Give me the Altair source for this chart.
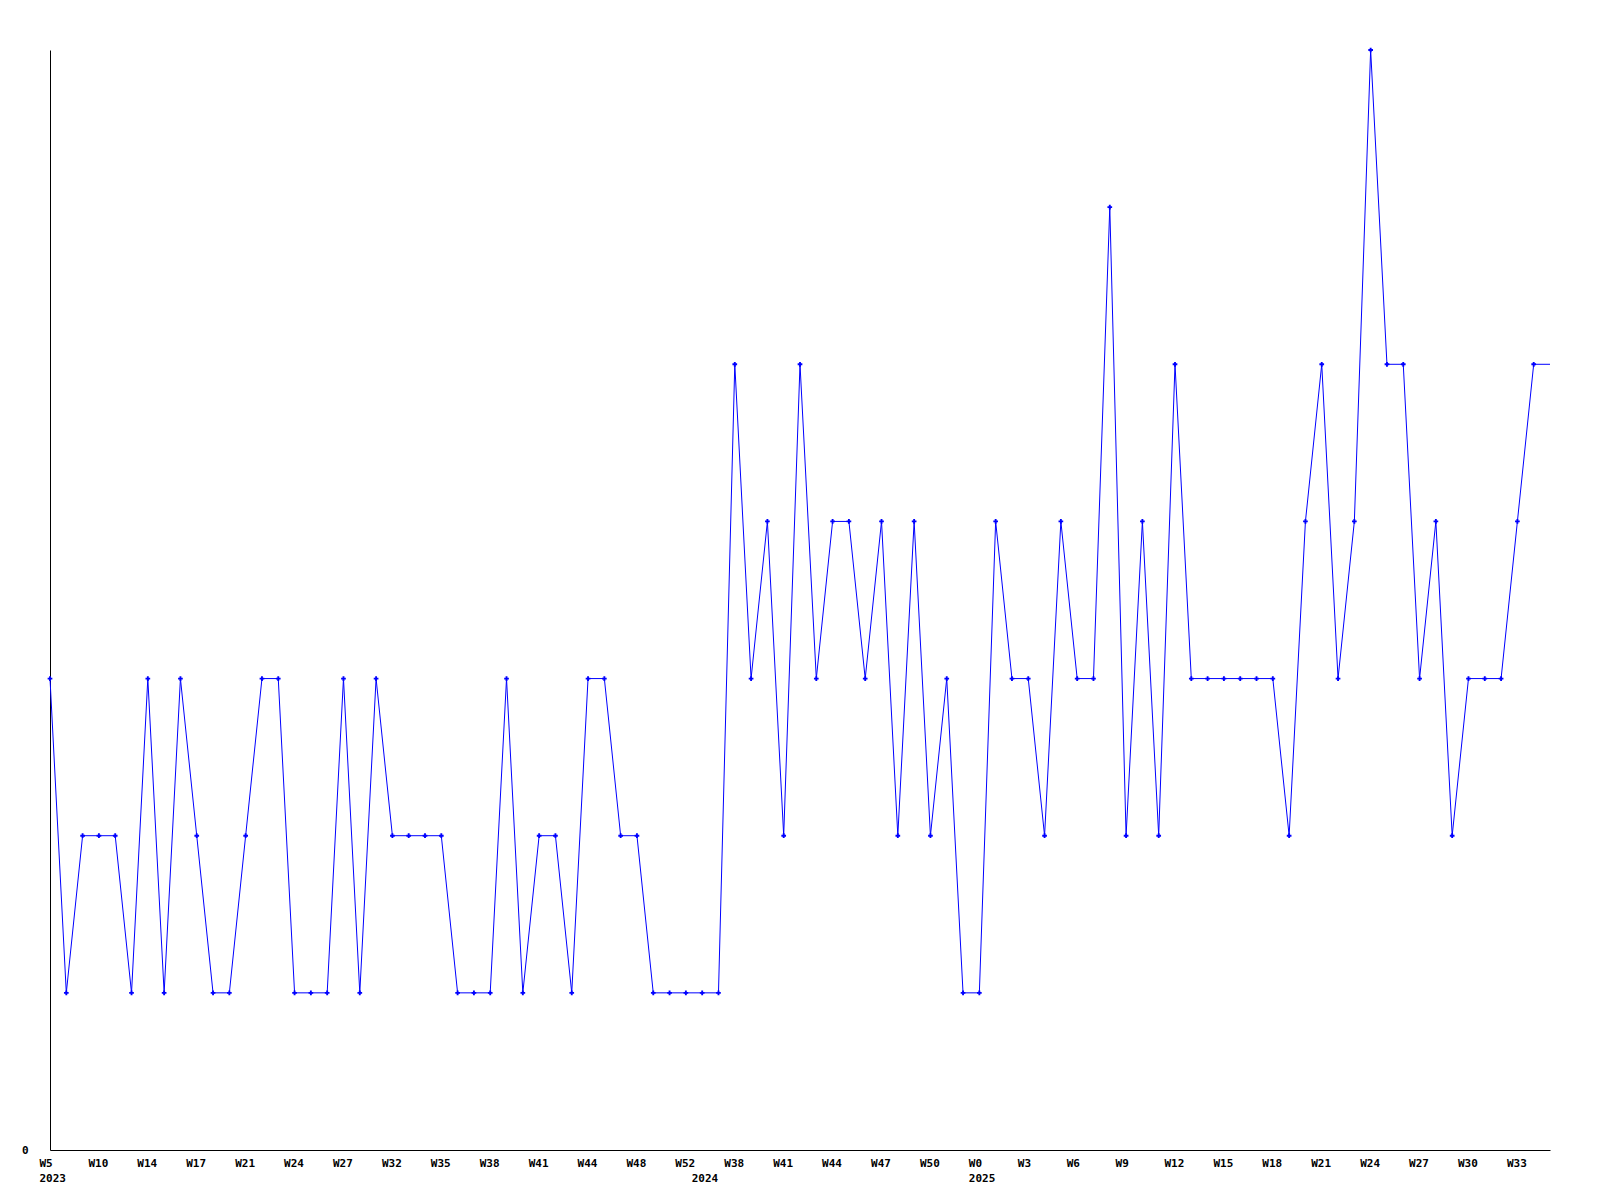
import json
import altair as alt
import pandas as pd

# weekly counts (one value per week)
values = [3, 1, 2, 2, 2, 1, 3, 1, 3, 2,
          1, 1, 2, 3, 3, 1, 1, 1, 3, 1,
          3, 2, 2, 2, 2, 1, 1, 1, 3, 1,
          2, 2, 1, 3, 3, 2, 2, 1, 1, 1,
          1, 1, 5, 3, 4, 2, 5, 3, 4, 4,
          3, 4, 2, 4, 2, 3, 1, 1, 4, 3,
          3, 2, 4, 3, 3, 6, 2, 4, 2, 5,
          3, 3, 3, 3, 3, 3, 2, 4, 5, 3,
          4, 7, 5, 5, 3, 4, 2, 3, 3, 3,
          4, 5, 5]
n_markers = 92  # last value has no marker (current, running week)

# tick labels (every third week) and year labels
week_labels = ["W5", "W10", "W14", "W17", "W21", "W24", "W27", "W32", "W35", "W38",
               "W41", "W44", "W48", "W52", "W38", "W41", "W44", "W47", "W50", "W0",
               "W3", "W6", "W9", "W12", "W15", "W18", "W21", "W24", "W27", "W30", "W33"]
week_label_step = 3
year_labels = ["2023", "2024", "2025"]
year_positions = [0, 40, 57]

df = pd.DataFrame({"i": list(range(len(values))), "v": values})

# build label lookup array
labels = [""] * len(values)
for k, w in enumerate(week_labels):
    labels[k * week_label_step] = [w]
for y, p in zip(year_labels, year_positions):
    cur = labels[p]
    first = cur[0] if isinstance(cur, list) else ""
    labels[p] = [first, y]
tick_values = sorted(set([k * week_label_step for k in range(len(week_labels))] + year_positions))
label_expr = json.dumps(labels) + "[datum.value]"

font = "DejaVu Sans Mono"
xmax = len(values) - 1

x_enc = alt.X("i:Q",
              scale=alt.Scale(domain=[0, xmax], nice=False, zero=False),
              axis=alt.Axis(values=tick_values, labelExpr=label_expr, title=None,
                            grid=False, ticks=False, tickSize=0, labelAlign="left",
                            labelOffset=-11, labelPadding=7, labelLineHeight=15,
                            labelOverlap=False, labelFlush=False, labelBound=False,
                            labelFont=font, labelFontWeight="bold", labelFontSize=11,
                            labelColor="#000000", domainColor="#000000", domainWidth=1))
y_enc = alt.Y("v:Q",
              scale=alt.Scale(domain=[0, 7], nice=False, zero=True),
              axis=alt.Axis(values=[0], format="d", title=None, grid=False, ticks=False,
                            tickSize=0, labelPadding=22, labelFont=font,
                            labelFontWeight="bold", labelFontSize=11, labelColor="#000000",
                            domainColor="#000000", domainWidth=1))

line = alt.Chart(df).mark_line(color="#0000ff", strokeWidth=1).encode(x=x_enc, y=y_enc)
pts = alt.Chart(df).transform_filter(f"datum.i < {n_markers}").mark_point(
    shape="cross", filled=True, color="#0000ff", size=22, opacity=1
).encode(x="i:Q", y="v:Q")

chart = alt.layer(line, pts).properties(
    width=1500, height=1100,
    background="#ffffff",
    autosize=alt.AutoSizeParams(type="none"),
    padding={"left": 42, "top": 42, "right": 30, "bottom": 40},
).configure_view(stroke=None, strokeWidth=0)

chart.save("out.html", embed_options={"renderer": "svg", "actions": False})
